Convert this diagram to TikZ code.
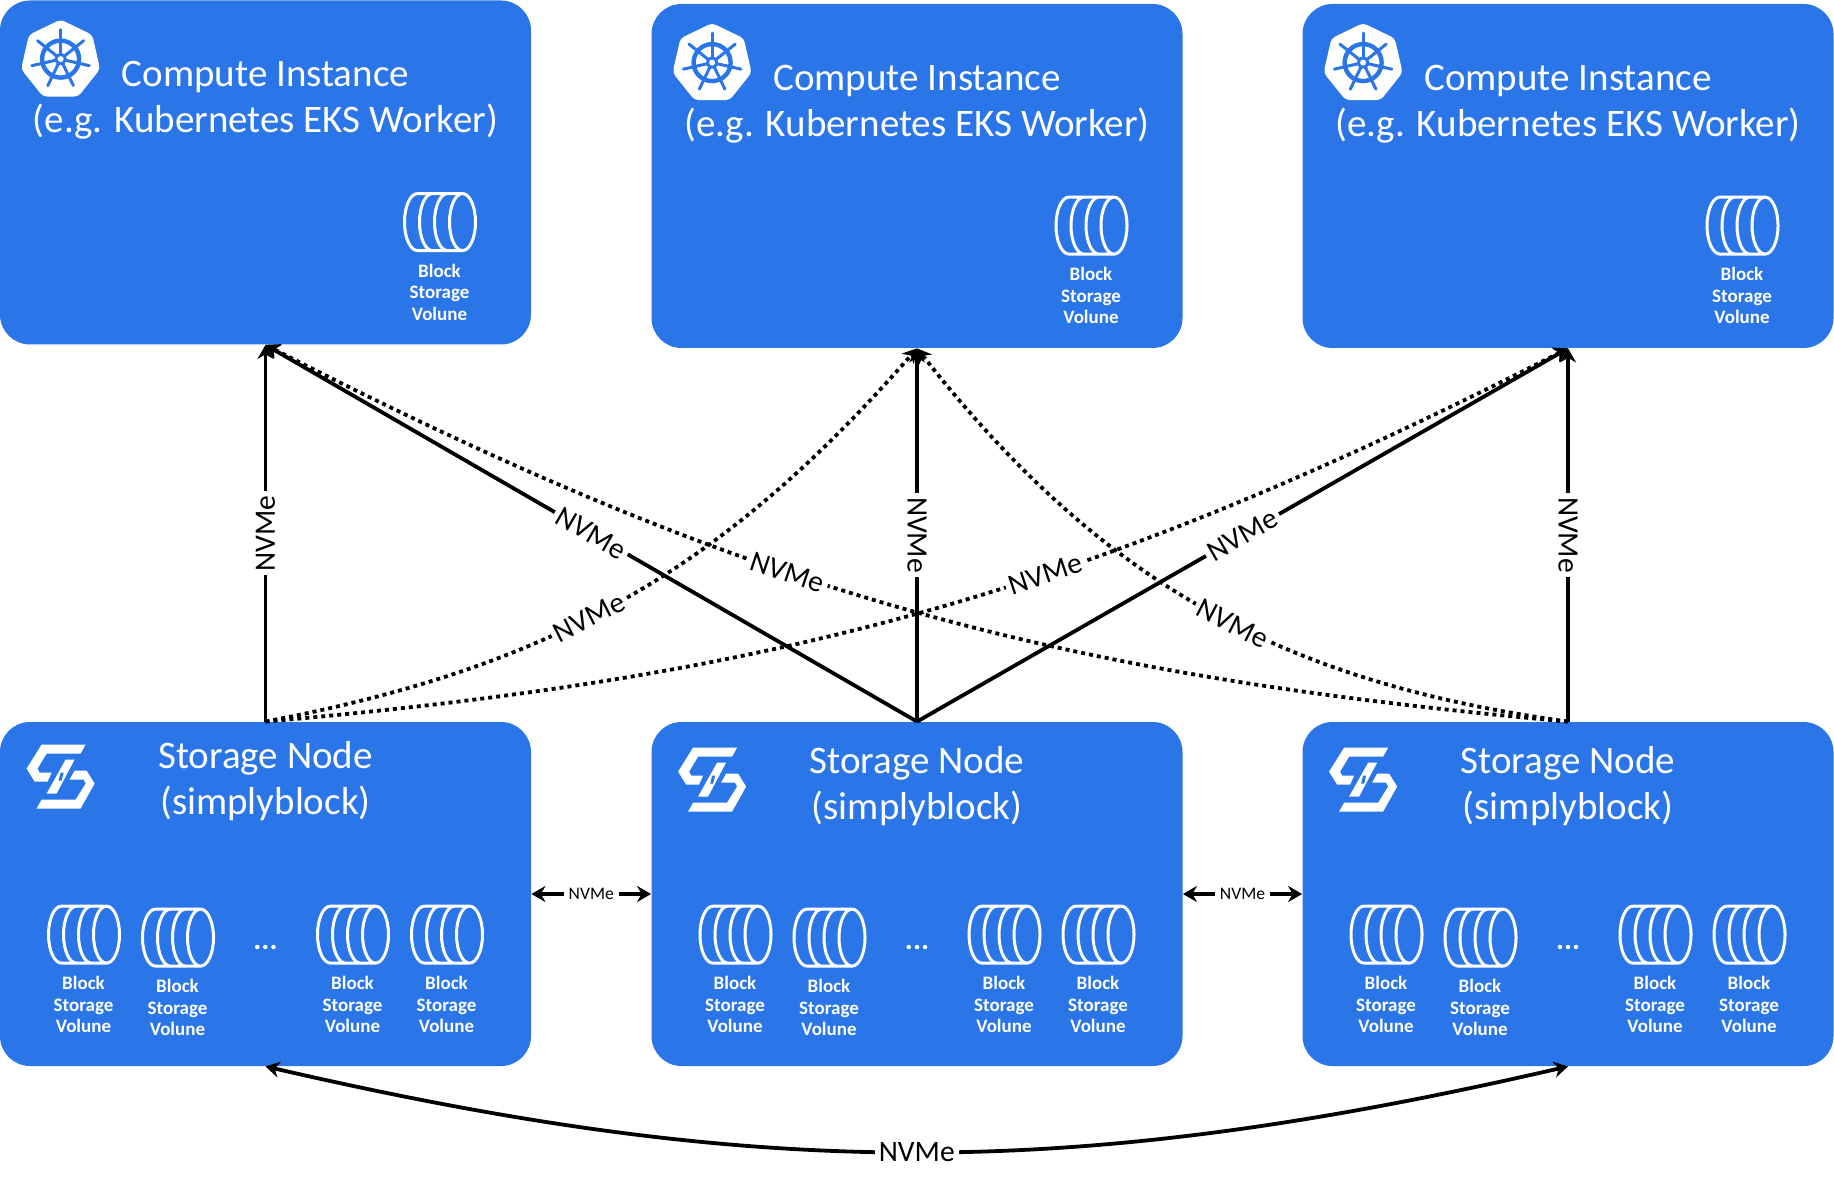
\documentclass[tikz,border=0pt]{standalone}
\usepackage{fontspec}
\setmainfont{Carlito}
\usetikzlibrary{arrows.meta,shapes.geometric}
\definecolor{boxblue}{RGB}{42,118,232}
\begin{document}
\begin{tikzpicture}[x=.5pt,y=.5pt,
        box/.style = {shape=rectangle, rounded corners=15pt, fill=boxblue,
            minimum width=265.5pt, minimum height=172pt, inner sep=0pt},
        boxtitle/.style = {align=center, text=white, inner sep=0pt,
            font=\fontsize{19.5}{23}\selectfont},
        voltext/.style = {align=center, text=white, inner sep=0pt,
            font=\fontsize{9.5}{10.8}\selectfont\bfseries},
        dotstext/.style = {text=white, inner sep=0pt,
            font=\fontsize{15}{15}\selectfont\bfseries},
        link/.style = {line width=1.9pt, -{Stealth[length=7pt,width=8pt]}},
        dottedlink/.style = {link, dash pattern=on 2pt off 2pt},
        both/.style = {line width=1.9pt, {Stealth[length=7pt,width=8pt]}-{Stealth[length=7pt,width=8pt]}},
        nvme/.style = {fill=white, inner sep=2pt, font=\fontsize{14.8}{14.8}\selectfont},
        smallnvme/.style = {fill=white, inner sep=2.5pt, font=\fontsize{8.8}{8.8}\selectfont},
        pics/volume/.style = {code={
            \draw[white, line width=1.5pt, line join=round]
                (-22,28.5) -- (23,28.5)
                (-22,-28.5) -- (23,-28.5)
                (23,0) ellipse (13 and 28.5)
                (-22,28.5) arc (90:270:13 and 28.5)
                (-7,28.5) arc (90:270:13 and 28.5)
                (8,28.5) arc (90:270:13 and 28.5);
            \node (-text) [voltext] at (0,-70) {Block\\Storage\\Volune};
        }},
        pics/helm/.style = {code={
            \node (-plate) [regular polygon, regular polygon sides=7, fill=white,
                minimum size=40.5pt, inner sep=0pt, rounded corners=2pt] at (0,0) {};
            \draw[boxblue, line width=2.2pt] (0,1) circle (18.5);
            \foreach \a in {90,141.4,192.9,244.3,295.7,347.1,38.6}
                \draw[boxblue, line width=1.5pt, line cap=round] (0,1) -- ++(\a:29.5);
            \fill[boxblue] (0,1) circle (6);
            \fill[white] (0,1) circle (3);
        }},
        pics/sblogo/.style = {code={
            \fill[white] (-19,32) -- (25,32) -- (20,23) -- (-14,23) -- (-23,8) -- (-21,4)
                -- (-9,4) -- (-13,-5) -- (-26,-5) -- (-34,8) -- cycle;
            \fill[white] (-24,-32) -- (20,-32) -- (34,-7) -- (26,6) -- (14,6) -- (9,-3)
                -- (23,-3) -- (25,-7) -- (15,-23) -- (-19,-23) -- cycle;
            \fill[white] (5,17) -- (14,17) -- (-4,-17) -- (-14,-17) -- cycle;
            \fill[boxblue] (-2,-4) -- (1,-4) -- (3,4) -- (0,4) -- cycle;
        }}]
    \useasboundingbox (0,0) rectangle (1834,-1181);

    % compute instances
    \node (c1) [box] at (265.5,-172.5) {};
    \node (c2) [box] at (917,-176) {};
    \node (c3) [box] at (1568,-176) {};
    \node (c1title) [boxtitle] at ([shift={(0,-100.5)}]c1.north) {Compute Instance\\(e.g. Kubernetes EKS Worker)};
    \node (c2title) [boxtitle] at ([shift={(0,-100.5)}]c2.north) {Compute Instance\\(e.g. Kubernetes EKS Worker)};
    \node (c3title) [boxtitle] at ([shift={(0,-100.5)}]c3.north) {Compute Instance\\(e.g. Kubernetes EKS Worker)};
    \pic (c1helm) at ([shift={(61,-60)}]c1.north west) {helm};
    \pic (c2helm) at ([shift={(61,-60)}]c2.north west) {helm};
    \pic (c3helm) at ([shift={(61,-60)}]c3.north west) {helm};
    \pic (c1vol) at ([shift={(174,-222)}]c1.north) {volume};
    \pic (c2vol) at ([shift={(174,-222)}]c2.north) {volume};
    \pic (c3vol) at ([shift={(174,-222)}]c3.north) {volume};

    % storage nodes
    \node (s1) [box] at (265.5,-894) {};
    \node (s2) [box] at (917,-894) {};
    \node (s3) [box] at (1568,-894) {};
    \node (s1title) [boxtitle] at ([shift={(0,-59.5)}]s1.north) {Storage Node\\(simplyblock)};
    \node (s2title) [boxtitle] at ([shift={(0,-64.5)}]s2.north) {Storage Node\\(simplyblock)};
    \node (s3title) [boxtitle] at ([shift={(0,-64.5)}]s3.north) {Storage Node\\(simplyblock)};
    \pic (s1logo) at ([shift={(61,-55)}]s1.north west) {sblogo};
    \pic (s2logo) at ([shift={(61,-58)}]s2.north west) {sblogo};
    \pic (s3logo) at ([shift={(61,-58)}]s3.north west) {sblogo};

    \pic (s1a) at ([shift={(-182,-213)}]s1.north) {volume};
    \pic (s1b) at ([shift={(-88,-216)}]s1.north) {volume};
    \node (s1dots) [dotstext] at ([shift={(0,-226)}]s1.north) {...};
    \pic (s1c) at ([shift={(87,-213)}]s1.north) {volume};
    \pic (s1d) at ([shift={(181,-213)}]s1.north) {volume};

    \pic (s2a) at ([shift={(-182,-213)}]s2.north) {volume};
    \pic (s2b) at ([shift={(-88,-216)}]s2.north) {volume};
    \node (s2dots) [dotstext] at ([shift={(0,-226)}]s2.north) {...};
    \pic (s2c) at ([shift={(87,-213)}]s2.north) {volume};
    \pic (s2d) at ([shift={(181,-213)}]s2.north) {volume};

    \pic (s3a) at ([shift={(-182,-213)}]s3.north) {volume};
    \pic (s3b) at ([shift={(-88,-216)}]s3.north) {volume};
    \node (s3dots) [dotstext] at ([shift={(0,-226)}]s3.north) {...};
    \pic (s3c) at ([shift={(87,-213)}]s3.north) {volume};
    \pic (s3d) at ([shift={(181,-213)}]s3.north) {volume};

    % links
    \draw[dottedlink] (s1.north) to[bend right=19] node[nvme, sloped, pos=.44] {NVMe} (c2.south);
    \draw[dottedlink] (s3.north) to[bend left=22] node[nvme, sloped, pos=.45] {NVMe} (c2.south);
    \draw[dottedlink] (s3.north) to[bend left=11] node[nvme, sloped, pos=.59] {NVMe} (c1.south);
    \draw[dottedlink] (s1.north) to[bend right=11] node[nvme, sloped, pos=.59] {NVMe} (c3.south);
    \draw[link] (s1.north) -- node[nvme, sloped] {NVMe} (c1.south);
    \draw[link] (s2.north) -- node[nvme, sloped] {NVMe} (c1.south);
    \draw[link] (s2.north) -- node[nvme, rotate=-90] {NVMe} (c2.south);
    \draw[link] (s2.north) -- node[nvme, sloped] {NVMe} (c3.south);
    \draw[link] (s3.north) -- node[nvme, rotate=-90] {NVMe} (c3.south);
    \draw[both] (s1.east) -- node[smallnvme] {NVMe} (s2.west);
    \draw[both] (s2.east) -- node[smallnvme] {NVMe} (s3.west);
    \draw[both] (s1.south) to[bend right=13] node[nvme] {NVMe} (s3.south);
\end{tikzpicture}
\end{document}
